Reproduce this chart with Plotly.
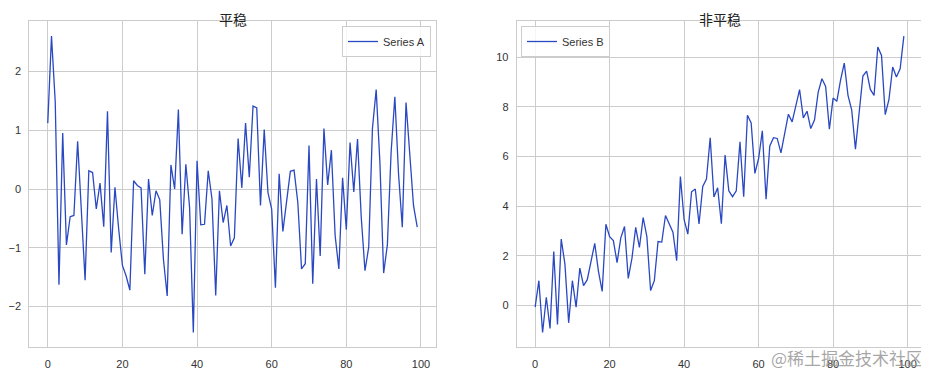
import plotly.graph_objects as go

x_values = list(range(100))

series_a = [
    1.12, 2.60, 1.48, -1.63, 0.95, -0.95, -0.47, -0.45, 0.81, -0.45,
    -1.55, 0.31, 0.28, -0.34, 0.10, -0.64, 1.32, -1.08, 0.03, -0.68,
    -1.30, -1.48, -1.72, 0.14, 0.06, 0.02, -1.45, 0.17, -0.45, -0.03,
    -0.18, -1.20, -1.82, 0.41, 0.00, 1.35, -0.77, 0.42, -0.31, -2.44,
    0.48, -0.61, -0.60, 0.31, -0.17, -1.81, -0.03, -0.57, -0.28, -0.97,
    -0.83, 0.86, 0.02, 1.12, 0.20, 1.41, 1.38, -0.28, 1.01, -0.06,
    -0.34, -1.68, 0.26, -0.72, -0.17, 0.30, 0.32, -0.23, -1.36, -1.27,
    0.74, -1.61, 0.17, -1.14, 1.03, 0.07, 0.66, -0.79, -1.36, 0.19,
    -0.69, 0.79, -0.05, 0.85, -0.48, -1.39, -0.99, 1.03, 1.69, 0.45,
    -1.43, -0.95, 0.62, 1.57, 0.25, -0.65, 1.47, 0.65, -0.28, -0.65,
]

series_b = [
    -0.08, 0.99, -1.10, 0.32, -0.94, 2.17, -0.78, 2.67, 1.66, -0.71,
    0.99, -0.08, 1.50, 0.79, 1.03, 1.70, 2.50, 1.37, 0.56, 3.27,
    2.77, 2.61, 1.72, 2.72, 3.18, 1.08, 1.90, 3.14, 2.33, 3.54,
    2.77, 0.59, 0.99, 2.57, 2.55, 3.62, 3.27, 2.95, 1.80, 5.19,
    3.45, 2.87, 4.58, 4.69, 3.28, 4.79, 5.09, 6.76, 4.37, 4.74,
    3.29, 6.06, 4.62, 4.38, 4.62, 6.60, 4.38, 7.67, 7.36, 5.32,
    5.92, 7.04, 4.28, 6.43, 6.76, 6.73, 6.15, 6.97, 7.71, 7.40,
    8.11, 8.70, 7.56, 7.83, 7.13, 7.47, 8.60, 9.14, 8.83, 7.10,
    8.36, 8.23, 9.08, 9.77, 8.47, 7.87, 6.30, 7.87, 9.25, 9.45,
    8.71, 8.47, 10.42, 10.08, 7.69, 8.31, 9.61, 9.21, 9.54, 10.86,
]

titles = ["平稳", "非平稳"]
names = ["Series A", "Series B"]
x_ticks = [0, 20, 40, 60, 80, 100]
y_ticks_a = [-2, -1, 0, 1, 2]
y_ticks_b = [0, 2, 4, 6, 8, 10]

# page body has an 8px margin; work in window pixels and shift
OFF = 8
W, H = 929 - OFF, 374 - OFF
LINE = "#2a48c2"
GRID = "#cccccc"
TXT = "#333333"


def px(xw):
    return (xw - OFF) / W


def py(yw):
    return 1 - (yw - OFF) / H


def pad_range(vals, frac=0.05):
    lo, hi = min(vals), max(vals)
    d = (hi - lo) * frac
    return [lo - d, hi + d]


fig = go.Figure()
fig.add_trace(go.Scatter(x=x_values, y=series_a, mode="lines", name=names[0],
                         line=dict(color=LINE, width=1.3), xaxis="x", yaxis="y",
                         legend="legend"))
fig.add_trace(go.Scatter(x=x_values, y=series_b, mode="lines", name=names[1],
                         line=dict(color=LINE, width=1.3), xaxis="x2", yaxis="y2",
                         legend="legend2"))

ydom = [py(347.3), py(21.3)]
axis_common = dict(showgrid=True, gridcolor=GRID, gridwidth=1, zeroline=False,
                   showline=True, linecolor=GRID, linewidth=1, mirror=True,
                   ticks="", automargin=False,
                   tickfont=dict(family="Liberation Sans, Arial", size=11, color=TXT))

fig.update_layout(
    width=W, height=H,
    margin=dict(l=0, r=0, t=0, b=0, autoexpand=False),
    paper_bgcolor="white", plot_bgcolor="white",
    xaxis=dict(domain=[px(29.3), px(435.7)], range=pad_range(x_values), tickvals=x_ticks,
               anchor="y", ticklabelstandoff=6, **axis_common),
    yaxis=dict(domain=ydom, range=pad_range(series_a), tickvals=y_ticks_a,
               anchor="x", ticklabelstandoff=5, **axis_common),
    xaxis2=dict(domain=[px(516.7), px(922.3)], range=pad_range(x_values), tickvals=x_ticks,
                anchor="y2", ticklabelstandoff=6, **axis_common),
    yaxis2=dict(domain=ydom, range=pad_range(series_b), tickvals=y_ticks_b,
                anchor="x2", ticklabelstandoff=5, **axis_common),
    legend=dict(x=px(431), y=py(26), xanchor="right", yanchor="top",
                bordercolor=GRID, borderwidth=1, bgcolor="rgba(255,255,255,0.8)",
                font=dict(family="Liberation Sans, Arial", size=11, color=TXT),
                itemwidth=30),
    legend2=dict(x=px(521), y=py(26), xanchor="left", yanchor="top",
                 bordercolor=GRID, borderwidth=1, bgcolor="rgba(255,255,255,0.8)",
                 font=dict(family="Liberation Sans, Arial", size=11, color=TXT),
                 itemwidth=30),
    showlegend=True,
    annotations=[
        dict(text=titles[0], x=px((29.3 + 435.7) / 2), y=1, xref="paper", yref="paper",
             showarrow=False, xanchor="center", yanchor="top", borderpad=0,
             font=dict(family="Noto Sans CJK SC", size=14, color="#222222")),
        dict(text=titles[1], x=px((516.7 + 922.3) / 2), y=1, xref="paper", yref="paper",
             showarrow=False, xanchor="center", yanchor="top", borderpad=0,
             font=dict(family="Noto Sans CJK SC", size=14, color="#222222")),
        dict(text="@稀土掘金技术社区", x=px(925), y=py(357), xref="paper", yref="paper",
             showarrow=False, xanchor="right", yanchor="middle",
             font=dict(family="Noto Sans CJK SC", size=17, color="rgba(150,150,150,0.85)")),
    ],
)

fig.write_html("out.html")
